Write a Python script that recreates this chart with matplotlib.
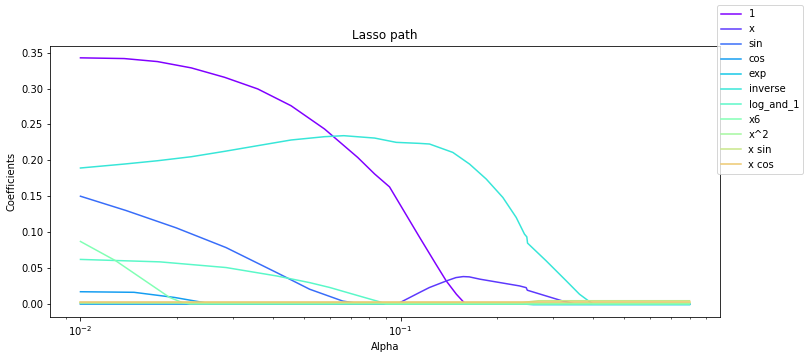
import matplotlib
matplotlib.use("Agg")
import matplotlib.pyplot as plt
import numpy as np

# Lasso coefficient paths (alpha, coefficient)
alpha_1 = [0.01, 0.0137, 0.0174, 0.0222, 0.0282, 0.0358, 0.0455, 0.0579, 0.0735,
           0.083, 0.0924, 0.1145, 0.129, 0.139, 0.1495, 0.157, 0.16, 0.8]
coef_1 = [0.3427, 0.3417, 0.3375, 0.3287, 0.3156, 0.2994, 0.276, 0.2436, 0.204,
          0.181, 0.163, 0.0934, 0.0554, 0.032, 0.0135, 0.0032, 0.0, 0.0]

alpha_x = [0.01, 0.0977, 0.1145, 0.123, 0.139, 0.149, 0.157, 0.164, 0.177,
           0.2355, 0.247, 0.249, 0.3206, 0.3376, 0.35, 0.8]
coef_x = [0.0, 0.0, 0.0158, 0.0228, 0.032, 0.0367, 0.0381, 0.0377, 0.0345,
          0.0251, 0.0227, 0.0191, 0.0042, 0.0018, 0.0, 0.0]

alpha_sin = [0.01, 0.0139, 0.0199, 0.0285, 0.041, 0.052, 0.066, 0.0744, 0.08, 0.8]
coef_sin = [0.150, 0.130, 0.106, 0.0785, 0.0437, 0.0205, 0.004, 0.0004, 0.0, 0.0]

alpha_cos = [0.01, 0.0147, 0.0197, 0.0257, 0.8]
coef_cos = [0.0170, 0.0162, 0.009, 0.0, 0.0]

alpha_exp = [0.01, 0.24, 0.26, 0.8]
coef_exp = [0.0, 0.0, -0.001, -0.001]

alpha_inverse = [0.01, 0.0137, 0.0174, 0.0222, 0.0282, 0.0358, 0.0455, 0.0579,
                 0.0665, 0.083, 0.097, 0.1145, 0.1232, 0.1457, 0.1643, 0.1853,
                 0.2088, 0.2299, 0.244, 0.2481, 0.2494, 0.2852, 0.3296, 0.3625,
                 0.3896, 0.40, 0.8]
coef_inverse = [0.1893, 0.1948, 0.1994, 0.205, 0.2125, 0.2204, 0.2283, 0.2329,
                0.2343, 0.231, 0.225, 0.2236, 0.2227, 0.211, 0.1948, 0.1739,
                0.1483, 0.1204, 0.0972, 0.0934, 0.0847, 0.060, 0.0321, 0.0135,
                0.0032, 0.0, 0.0]

alpha_log1 = [0.01, 0.0177, 0.0285, 0.041, 0.052, 0.060, 0.0744, 0.086, 0.09, 0.8]
coef_log1 = [0.062, 0.0586, 0.0507, 0.039, 0.0297, 0.023, 0.011, 0.003, 0.0, 0.0]

alpha_x6 = [0.01, 0.0129, 0.019, 0.0208, 0.022, 0.8]
coef_x6 = [0.087, 0.060, 0.009, 0.002, 0.0, 0.0]

alpha_x2 = [0.01, 0.8]
coef_x2 = [0.001, 0.001]

alpha_xsin = [0.01, 0.24, 0.27, 0.8]
coef_xsin = [0.002, 0.002, 0.0045, 0.0045]

alpha_xcos = [0.01, 0.8]
coef_xcos = [0.003, 0.003]

labels = ["1", "x", "sin", "cos", "exp", "inverse", "log_and_1", "x6", "x^2",
          "x sin", "x cos"]
paths = [(alpha_1, coef_1), (alpha_x, coef_x), (alpha_sin, coef_sin),
         (alpha_cos, coef_cos), (alpha_exp, coef_exp),
         (alpha_inverse, coef_inverse), (alpha_log1, coef_log1),
         (alpha_x6, coef_x6), (alpha_x2, coef_x2), (alpha_xsin, coef_xsin),
         (alpha_xcos, coef_xcos)]

colors = plt.cm.rainbow(np.linspace(0, 1, 15))[:len(labels)]

fig = plt.figure(figsize=(808 / 72, 359 / 72), dpi=72)
ax = fig.add_axes([50 / 808, 42 / 359, 670 / 808, 271.5 / 359])
for (a, c), lab, col in zip(paths, labels, colors):
    ax.plot(a, c, color=col, label=lab)
ax.set_xscale("log")
ax.set_title("Lasso path")
ax.set_xlabel("Alpha")
ax.set_ylabel("Coefficients")
fig.legend(loc="upper right", bbox_to_anchor=(1.0, 1.0))

fig.savefig("out.png", dpi=72)
